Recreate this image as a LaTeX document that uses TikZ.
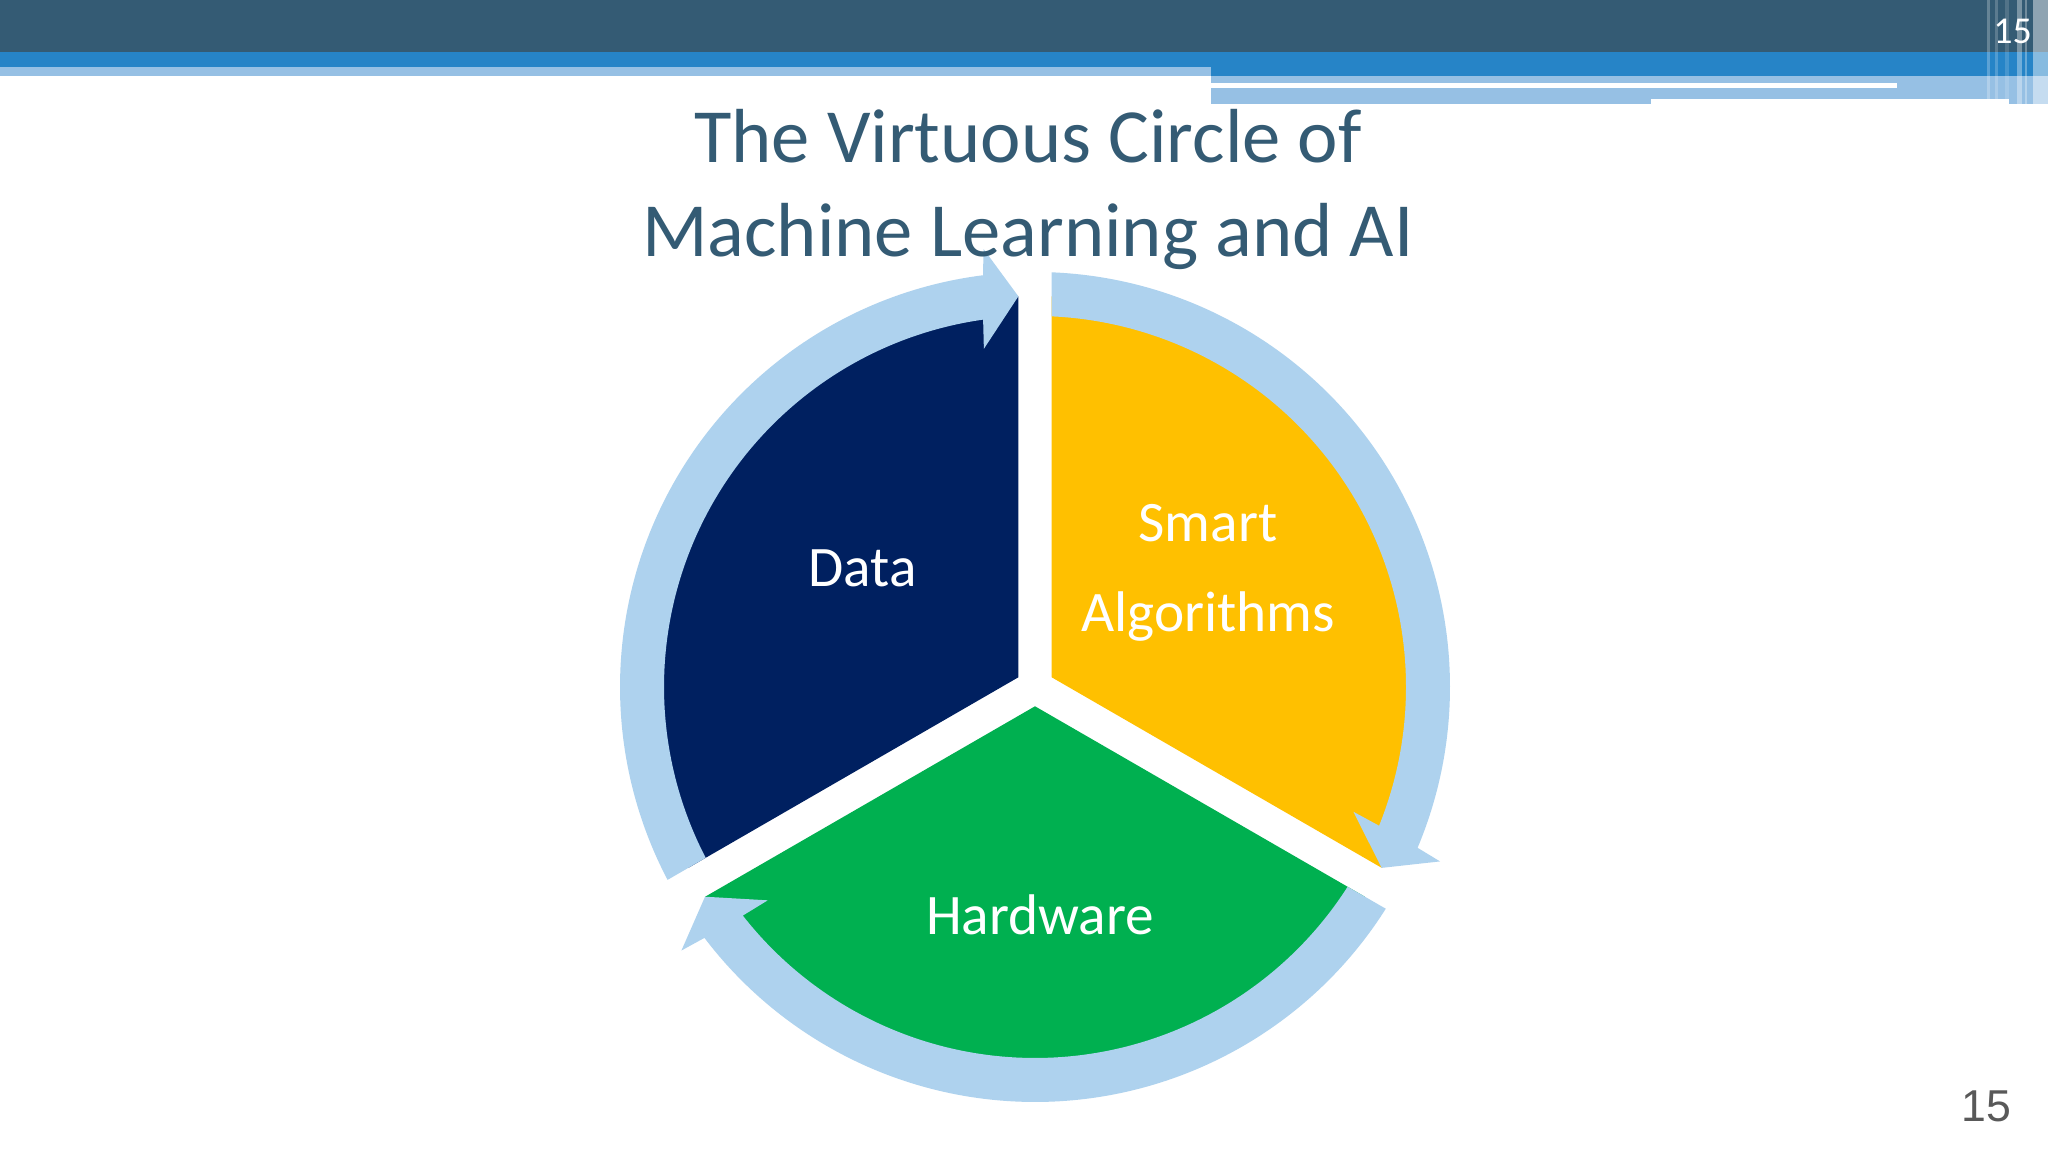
\documentclass[tikz,border=0pt]{standalone}
\usepackage{fontspec}
\setmainfont{Carlito}
\newfontfamily\arialfont{Liberation Sans}
\definecolor{headdark}{RGB}{52,91,116}
\definecolor{headblue}{RGB}{38,132,199}
\definecolor{headlight}{RGB}{150,192,228}
\definecolor{titlecol}{RGB}{52,91,116}
\definecolor{datacol}{RGB}{0,32,96}
\definecolor{smartcol}{RGB}{255,192,0}
\definecolor{hardcol}{RGB}{0,176,80}
\definecolor{ringcol}{RGB}{174,210,238}
\definecolor{numcol}{RGB}{89,89,89}
\begin{document}
\begin{tikzpicture}[x=0.1mm,y=0.1mm,
	lbl/.style={text=white,font=\fontsize{16.3}{20}\selectfont,anchor=base,inner sep=0pt},
	ttl/.style={text=titlecol,font=\fontsize{21.8}{26}\selectfont,anchor=base,inner sep=0pt}]
		\useasboundingbox (0,0) rectangle (2048,1152);
		\fill[white] (0,0) rectangle (2048,1152);
		% header bars
		\fill[headdark] (0,1100) rectangle (2048,1152);
		\fill[headblue] (0,1076) rectangle (2048,1100);
		\fill[headlight] (0,1076) rectangle (1211,1085);
		\fill[headlight] (1211,1053) rectangle (2048,1076);
		\fill[headlight] (1211,1048) rectangle (1651,1053);
		\fill[headlight] (2009,1048) rectangle (2048,1053);
		\fill[white] (1211,1064) rectangle (1897,1069);
		\foreach \xa/\xb/\op in {1987/1990/0.25,1995/1998/0.2,2005/2009/0.15,2017/2022/0.35,2025/2027/0.3,2033/2048/0.45}
		\fill[white,opacity=\op] (\xa,1048) rectangle (\xb,1152);
		\node[text=white,font=\fontsize{10.8}{12}\selectfont,anchor=base,inner sep=0pt] (pagetop) at (2012.5,1108) {15};
		% the three slices
		\coordinate (O) at (1035,465);
		\fill[datacol] (O) ++(150:19.3) coordinate (dataA) -- ++(90:381) arc[start angle=90,end angle=210,radius=381] -- cycle;
		\fill[smartcol] (O) ++(30:19.3) coordinate (smartA) -- ++(90:381) arc[start angle=90,end angle=-30,radius=381] -- cycle;
		\fill[hardcol] (O) ++(270:19.3) coordinate (hardA) -- ++(210:381) arc[start angle=210,end angle=330,radius=381] -- cycle;
		% ring arrows
		\foreach \rot in {0,-120,-240}
		\fill[ringcol,shift={(O)},rotate=\rot] (207.70:415) arc[start angle=207.70,end angle=97.2,radius=415]
		-- (96.7:441) -- (92.44:391) -- (98.6:342) -- (98.04:371)
		arc[start angle=98.04,end angle=207.42,radius=371] -- cycle;
		\node[lbl] (data) at (862.6,565.6) {Data};
		\node[lbl] (smart) at (1208,610) {Smart};
		\node[lbl] (algo) at (1208,520) {Algorithms};
		\node[lbl] (hardware) at (1040,217) {Hardware};
		\node[ttl] (title1) at (1028,989) {The Virtuous Circle of};
		\node[ttl] (title2) at (1028,895) {Machine Learning and AI};
		\node[text=numcol,font=\arialfont\fontsize{12.7}{14}\selectfont,anchor=base,inner sep=0pt] (pagenum) at (1986,30) {15};
\end{tikzpicture}
\end{document}
